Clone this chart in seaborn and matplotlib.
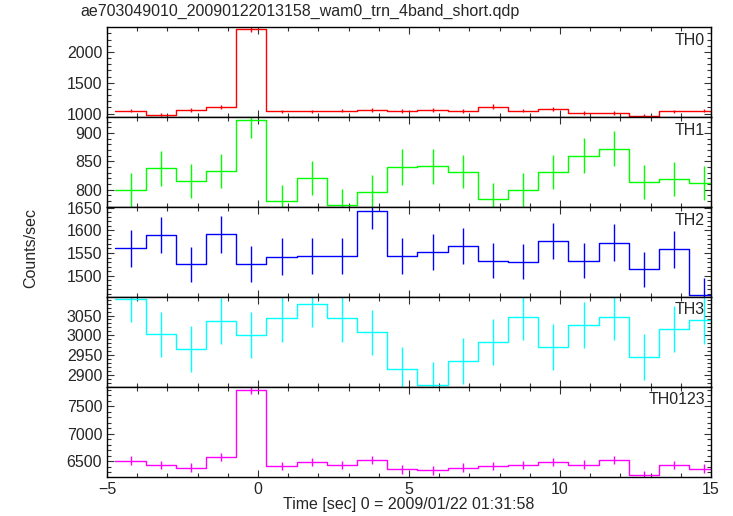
import matplotlib
matplotlib.use("Agg")
import matplotlib.pyplot as plt
from matplotlib.ticker import MultipleLocator
import seaborn as sns
import pandas as pd
import numpy as np

# bin centres (sec), 1 s bins
t_center = [-4.22, -3.22, -2.22, -1.22, -0.22, 0.78, 1.78, 2.78, 3.78, 4.78,
            5.78, 6.78, 7.78, 8.78, 9.78, 10.78, 11.78, 12.78, 13.78, 14.78]
bin_width = 1.0

th0 = [1049, 984, 1060, 1103, 2363, 1033, 1033, 1049, 1060, 1035,
       1060, 1044, 1114, 1049, 1081, 1005, 1016, 967, 1033, 1049]
th0_err = [32, 32, 32, 33, 40, 32, 32, 32, 32, 32,
           32, 32, 33, 32, 32, 31, 32, 31, 32, 32]

th1 = [799, 838, 815, 833, 923, 779, 821, 772, 795, 840,
       841, 832, 783, 800, 831, 860, 872, 814, 819, 812]
th1_err = [30, 31, 30, 30, 32, 29, 30, 29, 30, 31,
           31, 30, 29, 30, 30, 31, 31, 30, 30, 30]

th2 = [1560, 1589, 1525, 1591, 1526, 1542, 1544, 1544, 1643, 1543,
       1552, 1565, 1533, 1531, 1576, 1533, 1573, 1514, 1558, 1457]
th2_err = [40, 40, 39, 40, 39, 40, 40, 40, 41, 40,
           40, 40, 39, 39, 40, 39, 40, 39, 40, 38]

th3 = [3093, 3002, 2966, 3036, 3000, 3043, 3079, 3043, 3007, 2914,
       2874, 2935, 2982, 3046, 2971, 3026, 3047, 2945, 3016, 3038]
th3_err = [59, 58, 58, 59, 58, 59, 59, 59, 58, 57,
           57, 58, 58, 59, 58, 58, 59, 58, 58, 59]

th0123 = [6512, 6433, 6386, 6578, 7807, 6410, 6488, 6428, 6518, 6350,
          6332, 6386, 6415, 6433, 6482, 6440, 6518, 6252, 6433, 6368]
th0123_err = [75, 75, 74, 76, 82, 75, 75, 75, 75, 74,
              74, 74, 75, 75, 75, 75, 75, 73, 75, 74]

names = ["TH0", "TH1", "TH2", "TH3", "TH0123"]
series = [th0, th1, th2, th3, th0123]
errors = [th0_err, th1_err, th2_err, th3_err, th0123_err]
colors = ["#ff0000", "#00ff00", "#0000ff", "#00ffff", "#ff00ff"]
ylims = [(940, 2397), (769, 928), (1453, 1651), (2869, 3097), (6217, 7856)]
ymajor = [500, 50, 50, 50, 500]
yminor = [100, 10, 10, 10, 100]

sns.set_theme(style="ticks")
plt.rcParams["font.family"] = ["Liberation Sans", "DejaVu Sans"]
fs = 11.5

fig, axes = plt.subplots(5, 1, sharex=True, figsize=(7.33, 5.16), dpi=100)
fig.subplots_adjust(left=0.146, right=0.970, top=0.947, bottom=0.076, hspace=0)

for ax, name, y, yerr, c, ylim, maj, mnr in zip(axes, names, series, errors,
                                                 colors, ylims, ymajor, yminor):
    # step outline: left edges plus final right edge
    edges = [tc - bin_width / 2 for tc in t_center] + [t_center[-1] + bin_width / 2]
    df = pd.DataFrame({"t": edges, "rate": list(y) + [y[-1]]})
    sns.lineplot(data=df, x="t", y="rate", ax=ax, color=c, lw=1.0,
                 drawstyle="steps-post", estimator=None, sort=False)
    ax.errorbar(t_center, y, yerr=yerr, fmt="none", ecolor=c, elinewidth=1.0)

    ax.set_xlim(-5, 15)
    ax.set_ylim(*ylim)
    ax.yaxis.set_major_locator(MultipleLocator(maj))
    ax.yaxis.set_minor_locator(MultipleLocator(mnr))
    ax.xaxis.set_major_locator(MultipleLocator(5))
    ax.xaxis.set_minor_locator(MultipleLocator(1))
    ax.tick_params(which="both", direction="in", top=True, right=True,
                   labelsize=fs, color="#333333", width=0.8)
    ax.tick_params(which="major", length=5)
    ax.tick_params(which="minor", length=3)
    ax.set_xlabel("")
    ax.set_ylabel("")
    for sp in ax.spines.values():
        sp.set_linewidth(1.0)
        sp.set_color("black")
    ax.text(0.99, 0.94, name, transform=ax.transAxes, ha="right", va="top",
            fontsize=fs)

axes[-1].set_xlabel("Time [sec] 0 = 2009/01/22 01:31:58", fontsize=fs, labelpad=0)
fig.text(0.042, 0.52, "Counts/sec", rotation=90, ha="center", va="center",
         fontsize=fs)
fig.text(0.109, 0.977, "ae703049010_20090122013158_wam0_trn_4band_short.qdp",
         ha="left", va="center", fontsize=fs)

fig.savefig("out.png", dpi=100)
